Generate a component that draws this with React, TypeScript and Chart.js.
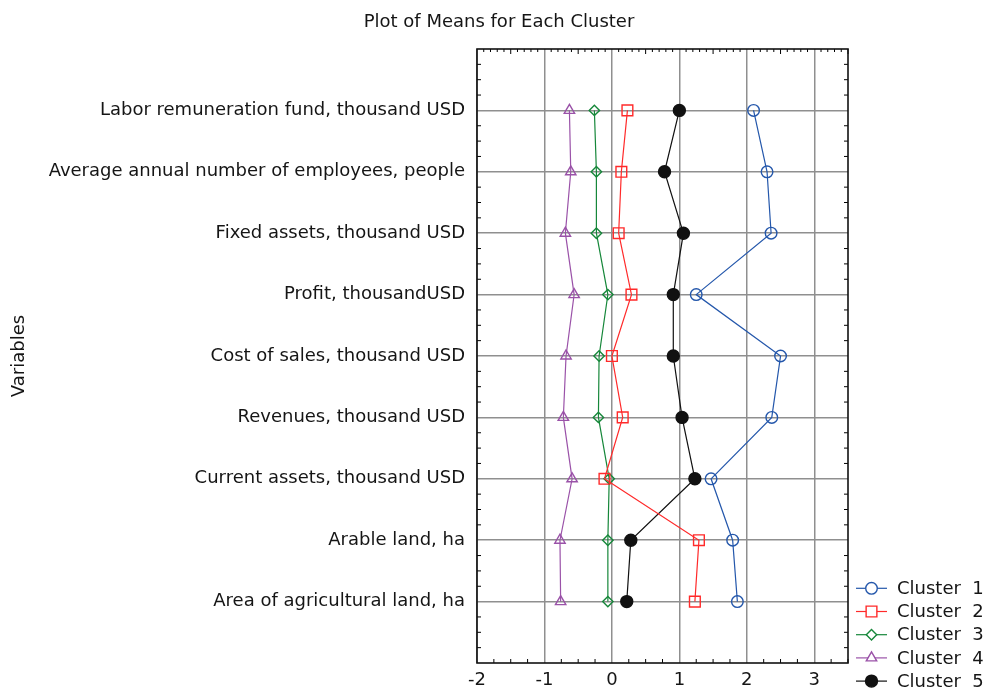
import React, { useEffect, useRef } from "react";
import { Chart, registerables } from "chart.js";
import { drawPoint } from "chart.js/helpers";

Chart.register(...registerables);

const categories = [
  "Labor remuneration fund, thousand USD",
  "Average annual number of employees, people",
  "Fixed assets, thousand USD",
  "Profit, thousandUSD",
  "Cost of sales, thousand USD",
  "Revenues, thousand USD",
  "Current assets, thousand USD",
  "Arable land, ha",
  "Area of agricultural land, ha",
];

const cluster1 = [2.1, 2.3, 2.36, 1.25, 2.5, 2.37, 1.47, 1.79, 1.86];
const cluster2 = [0.23, 0.14, 0.1, 0.29, 0.0, 0.16, -0.11, 1.29, 1.23];
const cluster3 = [-0.26, -0.23, -0.23, -0.06, -0.19, -0.2, -0.04, -0.06, -0.06];
const cluster4 = [-0.63, -0.61, -0.69, -0.56, -0.68, -0.72, -0.59, -0.77, -0.76];
const cluster5 = [1.0, 0.78, 1.06, 0.91, 0.91, 1.04, 1.23, 0.28, 0.22];

const seriesNames = ["Cluster  1", "Cluster  2", "Cluster  3", "Cluster  4", "Cluster  5"];
const xTickValues = [-2, -1, 0, 1, 2, 3];

const FONT = "'DejaVu Sans', 'Liberation Sans', Arial, sans-serif";
const TEXT = "#151515";

export default function App() {
  const ref = useRef<HTMLCanvasElement | null>(null);

  useEffect(() => {
    if (!ref.current) return;
    const all = [cluster1, cluster2, cluster3, cluster4, cluster5];
    const colors = ["#2457ab", "#ff2a2a", "#16873a", "#9a52a8", "#111111"];
    const styles = ["circle", "rect", "rectRot", "triangle", "circle"];
    const radii = [5.8, 7.6, 5.2, 6.0, 6.0];
    const fills = ["rgba(0,0,0,0)", "rgba(0,0,0,0)", "rgba(0,0,0,0)", "rgba(0,0,0,0)", "#111111"];

    const datasets = all.map((vals, i) => ({
      label: seriesNames[i],
      data: vals.map((v, j) => ({ x: v, y: j + 1 })),
      showLine: true,
      borderColor: colors[i],
      backgroundColor: fills[i],
      borderWidth: 1.2,
      pointStyle: styles[i],
      pointRadius: radii[i],
      pointHoverRadius: radii[i],
      pointBorderColor: colors[i],
      pointBackgroundColor: fills[i],
      pointBorderWidth: 1.4,
    }));

    const framePlugin = {
      id: "frameAndExtras",
      afterDraw(chart: any) {
        const ctx = chart.ctx;
        const a = chart.chartArea;
        const xs = chart.scales.x;
        const ys = chart.scales.y;
        ctx.save();
        // minor ticks
        ctx.strokeStyle = "#000";
        ctx.lineWidth = 1;
        ctx.beginPath();
        for (let k = -20; k <= 35; k++) {
          const v = k / 10;
          if (k % 10 === 0) continue;
          const px = xs.getPixelForValue(v);
          const len = k % 5 === 0 ? 5 : 3;
          ctx.moveTo(px, a.top);
          ctx.lineTo(px, a.top + len);
        }
        for (let k = -8; k <= 14; k++) {
          if (k % 4 === 0) continue;
          const px = xs.getPixelForValue(k / 4);
          ctx.moveTo(px, a.bottom);
          ctx.lineTo(px, a.bottom - 4);
        }
        for (let k = 1; k < 40; k++) {
          if (k % 4 === 0) continue;
          const py = ys.getPixelForValue(k / 4);
          ctx.moveTo(a.left, py);
          ctx.lineTo(a.left + 4, py);
          ctx.moveTo(a.right, py);
          ctx.lineTo(a.right - 4, py);
        }
        ctx.stroke();
        // frame
        ctx.lineWidth = 1.6;
        ctx.strokeStyle = "#111";
        ctx.strokeRect(a.left, a.top, a.right - a.left, a.bottom - a.top);
        // title
        ctx.fillStyle = TEXT;
        ctx.font = `18px ${FONT}`;
        ctx.textAlign = "center";
        ctx.textBaseline = "middle";
        ctx.fillText("Plot of Means for Each Cluster", 499, 22);
        // legend
        const lx0 = 856;
        const lx1 = 887;
        const ly0 = 588.3;
        const step = 23.2;
        chart.data.datasets.forEach((ds: any, i: number) => {
          const y = ly0 + i * step;
          ctx.strokeStyle = ds.borderColor;
          ctx.lineWidth = 1.2;
          ctx.beginPath();
          ctx.moveTo(lx0, y);
          ctx.lineTo(lx1, y);
          ctx.stroke();
          ctx.fillStyle = i === 4 ? "#111" : "#fff";
          ctx.strokeStyle = ds.pointBorderColor;
          ctx.lineWidth = 1.4;
          drawPoint(ctx, { pointStyle: ds.pointStyle, radius: ds.pointRadius, rotation: 0, borderWidth: 1.4 }, (lx0 + lx1) / 2, y);
          ctx.fillStyle = TEXT;
          ctx.textAlign = "left";
          ctx.textBaseline = "middle";
          ctx.font = `18px ${FONT}`;
          ctx.fillText(ds.label, 897, y + 1);
        });
        ctx.restore();
      },
    };

    const chart = new Chart(ref.current, {
      type: "scatter",
      data: { datasets },
      options: {
        animation: false,
        responsive: false,
        layout: { padding: { top: 49, right: 138, left: 0, bottom: 0 } },
        plugins: { legend: { display: false }, title: { display: false }, tooltip: { enabled: false } },
        scales: {
          x: {
            type: "linear",
            min: -2,
            max: 3.5,
            afterBuildTicks: (scale: any) => {
              scale.ticks = xTickValues.map((v) => ({ value: v }));
            },
            afterFit: (scale: any) => {
              scale.height = 31;
            },
            grid: { color: "#8f8f8f", lineWidth: 1.5, drawTicks: false },
            border: { display: false },
            ticks: {
              padding: 7,
              color: TEXT,
              font: { size: 18, family: FONT },
              maxRotation: 0,
              autoSkip: false,
              callback: (v: any) => String(v),
            },
          },
          y: {
            type: "linear",
            min: 0,
            max: 10,
            reverse: true,
            afterBuildTicks: (scale: any) => {
              scale.ticks = categories.map((_, i) => ({ value: i + 1 }));
            },
            afterFit: (scale: any) => {
              scale.width = 477;
            },
            grid: { color: "#8f8f8f", lineWidth: 1.5, drawTicks: false },
            border: { display: false },
            title: {
              display: true,
              text: "Variables",
              color: TEXT,
              font: { size: 18, family: FONT },
              padding: { top: 9, bottom: 0 },
            },
            ticks: {
              padding: 12,
              color: TEXT,
              font: { size: 18, family: FONT },
              autoSkip: false,
              callback: (v: any) => categories[Math.round(v) - 1] ?? "",
            },
          },
        },
      },
      plugins: [framePlugin],
    });

    return () => chart.destroy();
  }, []);

  return (
    <div style={{ position: "absolute", left: 0, top: 0, width: 986, height: 694, background: "#fff" }}>
      <canvas ref={ref} width={986} height={694} />
    </div>
  );
}
